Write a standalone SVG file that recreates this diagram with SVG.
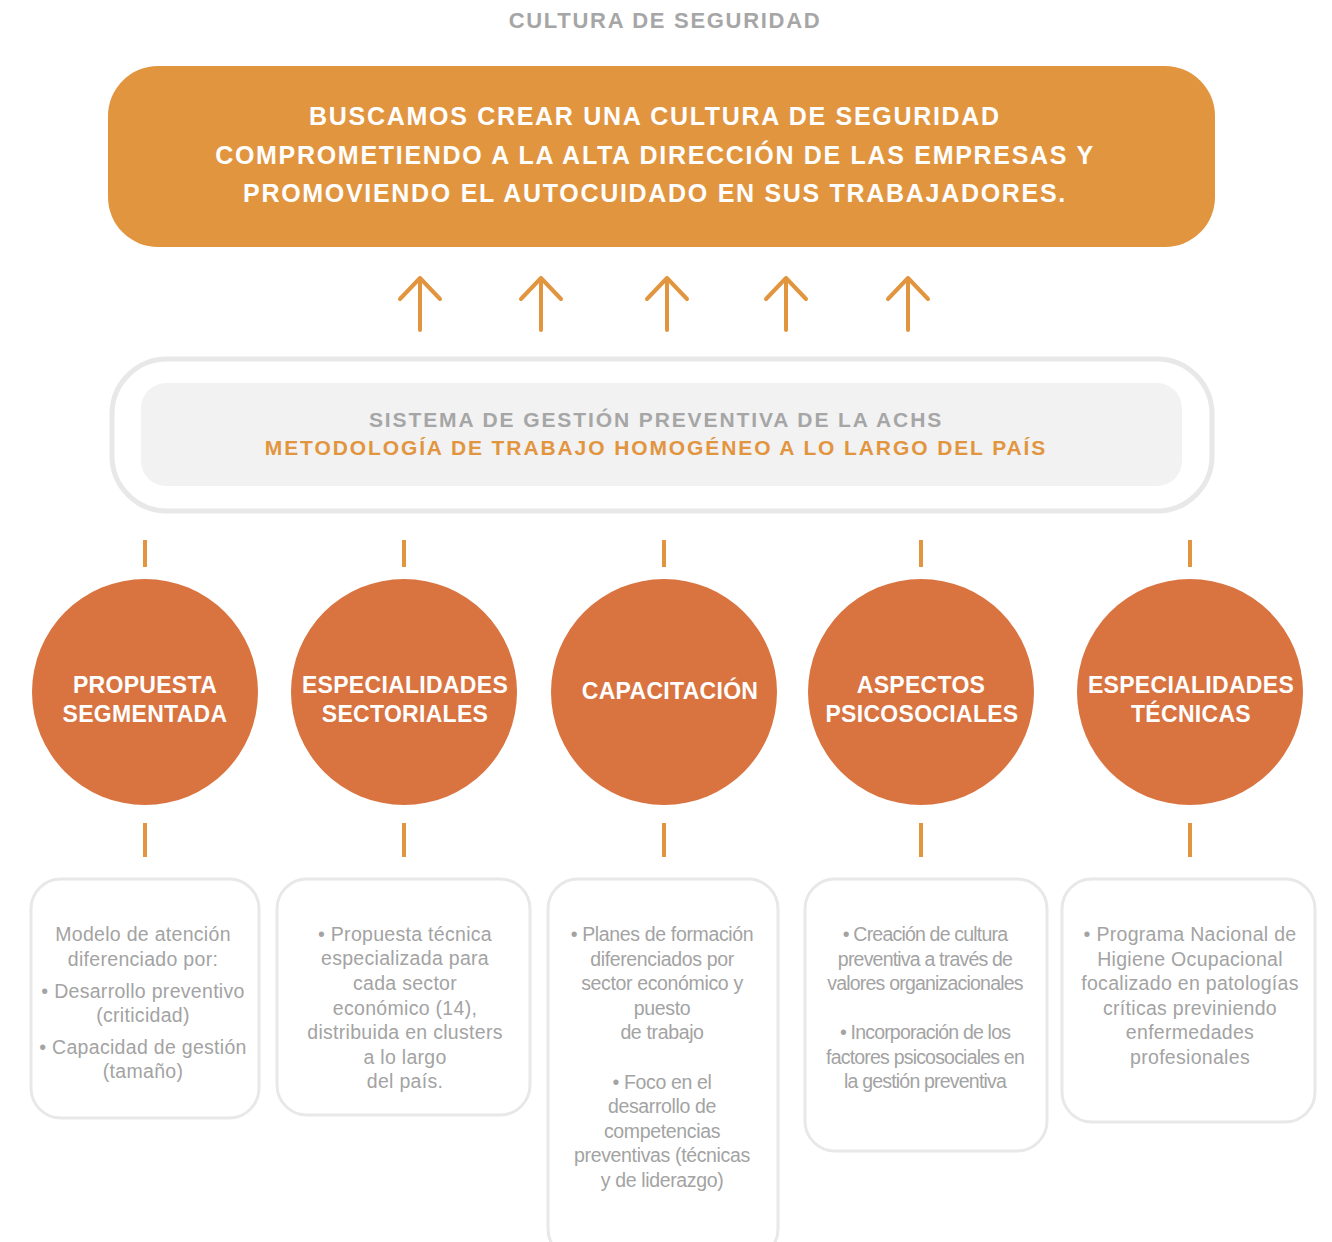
<svg xmlns="http://www.w3.org/2000/svg" width="1332" height="1242" viewBox="0 0 1332 1242">
<defs>
<style>
.title{font-family:"Liberation Sans",Arial,sans-serif;font-weight:bold;font-size:22px;fill:#a6a6a6;text-anchor:middle;letter-spacing:1.7px}
.head{font-family:"Liberation Sans",Arial,sans-serif;font-weight:bold;font-size:25px;fill:#ffffff;text-anchor:middle;letter-spacing:1.7px}
.sys1{font-family:"Liberation Sans",Arial,sans-serif;font-weight:bold;font-size:21px;fill:#a6a6a6;text-anchor:middle;letter-spacing:1.9px}
.sys2{font-family:"Liberation Sans",Arial,sans-serif;font-weight:bold;font-size:21px;fill:#e2953f;text-anchor:middle;letter-spacing:1.9px}
.circ{fill:#d97441}
.ctext{font-family:"Liberation Sans",Arial,sans-serif;font-weight:bold;font-size:23px;fill:#ffffff;text-anchor:middle;letter-spacing:0.3px}
.box{fill:#ffffff;stroke:#e8e8e8;stroke-width:3}
.body{font-family:"Liberation Sans",Arial,sans-serif;font-size:19.5px;fill:#a3a3a3;text-anchor:middle;letter-spacing:0.3px}
.cond{letter-spacing:-0.8px}
.semi{letter-spacing:-0.35px}
.arrow{stroke:#e2953f;stroke-width:4;fill:none;stroke-linecap:round;stroke-linejoin:round}
.tick{stroke:#e2953f;stroke-width:4}
</style>
</defs>
<rect width="1332" height="1242" fill="#ffffff"/>
<text class="title" x="665" y="28">CULTURA DE SEGURIDAD</text>

<g id="cultura">
<rect x="108" y="66" width="1107" height="181" rx="50" fill="#e2953f"/>
<text class="head" x="655" y="125">BUSCAMOS CREAR UNA CULTURA DE SEGURIDAD</text>
<text class="head" x="655" y="164">COMPROMETIENDO A LA ALTA DIRECCIÓN DE LAS EMPRESAS Y</text>
<text class="head" x="655" y="202">PROMOVIENDO EL AUTOCUIDADO EN SUS TRABAJADORES.</text>
</g>

<g id="sistema">
<rect x="112" y="359" width="1100" height="152" rx="55" fill="#ffffff" stroke="#e8e8e8" stroke-width="5"/>
<rect x="141" y="383" width="1041" height="103" rx="25" fill="#f2f2f2"/>
<text class="sys1" x="656" y="427">SISTEMA DE GESTIÓN PREVENTIVA DE LA ACHS</text>
<text class="sys2" x="656" y="455">METODOLOGÍA DE TRABAJO HOMOGÉNEO A LO LARGO DEL PAÍS</text>
</g>

<g id="connectors">
<path class="arrow" d="M420 330V278M400 299L420 278L440 299"/>
<path class="arrow" d="M541 330V278M521 299L541 278L561 299"/>
<path class="arrow" d="M667 330V278M647 299L667 278L687 299"/>
<path class="arrow" d="M786 330V278M766 299L786 278L806 299"/>
<path class="arrow" d="M908 330V278M888 299L908 278L928 299"/>
<line class="tick" x1="145" y1="540" x2="145" y2="567"/>
<line class="tick" x1="404" y1="540" x2="404" y2="567"/>
<line class="tick" x1="664" y1="540" x2="664" y2="567"/>
<line class="tick" x1="921" y1="540" x2="921" y2="567"/>
<line class="tick" x1="1190" y1="540" x2="1190" y2="567"/>
<line class="tick" x1="145" y1="823" x2="145" y2="857"/>
<line class="tick" x1="404" y1="823" x2="404" y2="857"/>
<line class="tick" x1="664" y1="823" x2="664" y2="857"/>
<line class="tick" x1="921" y1="823" x2="921" y2="857"/>
<line class="tick" x1="1190" y1="823" x2="1190" y2="857"/>
</g>

<g id="propuesta">
<circle class="circ" cx="145" cy="692" r="113"/>
<text class="ctext" x="145" y="693">PROPUESTA</text>
<text class="ctext" x="145" y="722">SEGMENTADA</text>
</g>
<g id="sectoriales">
<circle class="circ" cx="404" cy="692" r="113"/>
<text class="ctext" x="405" y="693">ESPECIALIDADES</text>
<text class="ctext" x="405" y="722">SECTORIALES</text>
</g>
<g id="capacitacion">
<circle class="circ" cx="664" cy="692" r="113"/>
<text class="ctext" x="670" y="699">CAPACITACIÓN</text>
</g>
<g id="psicosociales">
<circle class="circ" cx="921" cy="692" r="113"/>
<text class="ctext" x="921" y="693">ASPECTOS</text>
<text class="ctext" x="922" y="722">PSICOSOCIALES</text>
</g>
<g id="tecnicas">
<circle class="circ" cx="1190" cy="692" r="113"/>
<text class="ctext" x="1191" y="693">ESPECIALIDADES</text>
<text class="ctext" x="1191" y="722">TÉCNICAS</text>
</g>

<g id="box-propuesta">
<rect class="box" x="31" y="879" width="228" height="239" rx="30"/>
<text class="body" x="143" y="941">Modelo de atención</text>
<text class="body" x="143" y="966">diferenciado por:</text>
<text class="body" x="143" y="998">• Desarrollo preventivo</text>
<text class="body" x="143" y="1022">(criticidad)</text>
<text class="body" x="143" y="1054">• Capacidad de gestión</text>
<text class="body" x="143" y="1078">(tamaño)</text>
</g>
<g id="box-sectoriales">
<rect class="box" x="277" y="879" width="253" height="236" rx="30"/>
<text class="body" x="405" y="941">• Propuesta técnica</text>
<text class="body" x="405" y="965">especializada para</text>
<text class="body" x="405" y="990">cada sector</text>
<text class="body" x="405" y="1015">económico (14),</text>
<text class="body" x="405" y="1039">distribuida en clusters</text>
<text class="body" x="405" y="1064">a lo largo</text>
<text class="body" x="405" y="1088">del país.</text>
</g>
<g id="box-capacitacion">
<rect class="box" x="548" y="879" width="230" height="380" rx="30"/>
<text class="body semi" x="662" y="941">• Planes de formación</text>
<text class="body semi" x="662" y="966">diferenciados por</text>
<text class="body semi" x="662" y="990">sector económico y</text>
<text class="body semi" x="662" y="1015">puesto</text>
<text class="body semi" x="662" y="1039">de trabajo</text>
<text class="body semi" x="662" y="1089">• Foco en el</text>
<text class="body semi" x="662" y="1113">desarrollo de</text>
<text class="body semi" x="662" y="1138">competencias</text>
<text class="body semi" x="662" y="1162">preventivas (técnicas</text>
<text class="body semi" x="662" y="1187">y de liderazgo)</text>
</g>
<g id="box-psicosociales">
<rect class="box" x="805" y="879" width="242" height="272" rx="30"/>
<text class="body cond" x="925" y="941">• Creación de cultura</text>
<text class="body cond" x="925" y="966">preventiva a través de</text>
<text class="body cond" x="925" y="990">valores organizacionales</text>
<text class="body cond" x="925" y="1039">• Incorporación de los</text>
<text class="body cond" x="925" y="1064">factores psicosociales en</text>
<text class="body cond" x="925" y="1088">la gestión preventiva</text>
</g>
<g id="box-tecnicas">
<rect class="box" x="1062" y="879" width="253" height="243" rx="30"/>
<text class="body" x="1190" y="941">• Programa Nacional de</text>
<text class="body" x="1190" y="966">Higiene Ocupacional</text>
<text class="body" x="1190" y="990">focalizado en patologías</text>
<text class="body" x="1190" y="1015">críticas previniendo</text>
<text class="body" x="1190" y="1039">enfermedades</text>
<text class="body" x="1190" y="1064">profesionales</text>
</g>
</svg>
